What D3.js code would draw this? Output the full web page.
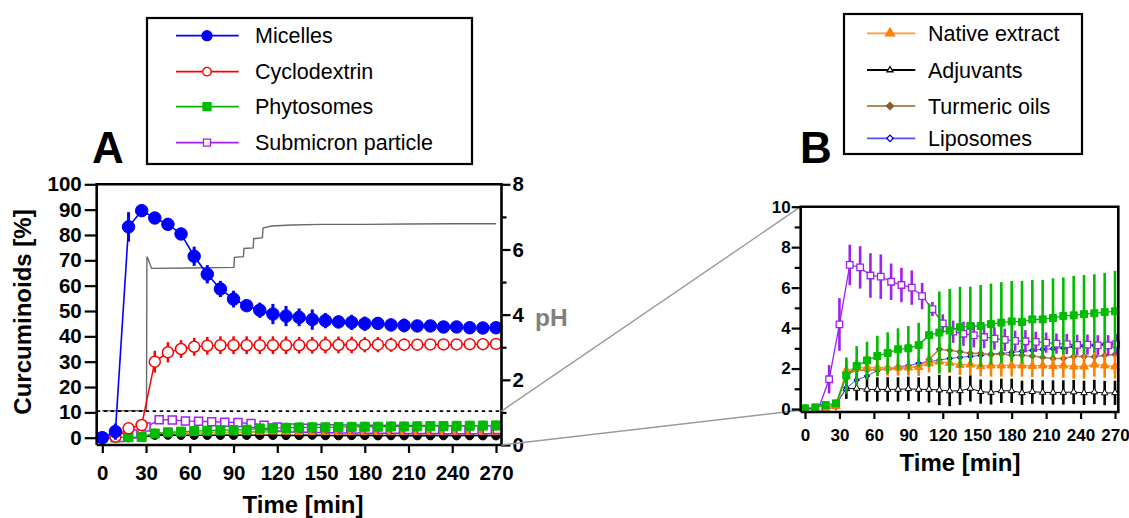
<!DOCTYPE html>
<html><head><meta charset="utf-8">
<script src="https://cdn.jsdelivr.net/npm/d3@7/dist/d3.min.js"></script>
<style>
body{margin:0;background:#fff}
svg{display:block;font-family:"Liberation Sans",Arial,Helvetica,sans-serif}
</style>
</head><body>
<svg id="c" width="1129" height="518"></svg>
<script>
// ---------------- DATA ----------------
const times = [0,9,18,27,36,45,54,63,72,81,90,99,108,117,126,135,144,153,162,171,180,189,198,207,216,225,234,243,252,261,270];
const submicronTimes = [0,12,21,30,39,48,57,66,75,84,93,102,111,120,129,138,147,156,165,174,183,192,201,210,219,228,237,246,255,264,271];
const xTicks = [0,30,60,90,120,150,180,210,240,270];
const yTicksA = [0,10,20,30,40,50,60,70,80,90,100];
const phTicks = [0,1,2,3,4,5,6,7,8];
const yTicksB = [0,1,2,3,4,5,6,7,8,9,10];

const micelles    = [0,2.4,83.2,89.6,86.7,84.2,80.4,71.6,64.5,58.7,54.7,52.1,50.3,48.8,48.0,47.5,46.6,46.2,45.7,45.5,45.0,45.1,44.5,44.3,44.1,44.1,43.7,43.7,43.4,43.3,43.4];
const micellesErr = [0.5,3.2,5.8,0.8,1.5,1.0,2.1,3.8,3.6,3.2,3.3,2.0,3.0,4.0,4.0,3.5,4.0,3.0,2.5,3.0,2.8,2.5,2.5,2.7,2.3,2.3,2.3,2.0,2.3,2.0,1.8];
const cyclodextrin    = [0,0.4,3.7,5.0,30.0,33.7,35.0,35.9,36.3,36.5,36.5,36.5,36.5,36.5,36.5,36.5,36.5,36.6,36.6,36.6,36.7,36.7,36.7,36.7,36.7,36.8,36.8,36.8,36.9,36.9,37.0];
const cyclodextrinErr = [0,0.3,0.8,1.0,4.3,4.0,3.5,3.5,3.5,3.5,3.5,3.5,3.5,3.5,3.5,3.3,3.3,3.3,3.3,3.3,3.0,3.0,2.8,2.5,2.3,2.0,1.8,1.5,1.0,0.8,0.6];
const phytosomes    = [0.03,0.08,0.2,0.28,1.65,2.13,2.4,2.62,2.77,2.95,3.0,3.16,3.65,3.78,3.88,4.04,4.1,4.1,4.2,4.27,4.33,4.3,4.43,4.43,4.5,4.6,4.63,4.69,4.73,4.79,4.83];
const phytosomesErr = [0.05,0.05,0.1,0.15,0.9,0.98,0.93,1.0,1.02,1.04,1.1,1.1,1.57,2.03,2.05,2.0,1.95,2.03,2.0,2.0,2.0,2.03,1.95,1.95,1.96,1.9,1.95,1.93,1.93,1.94,2.0];
const submicron    = [0,0.05,1.47,4.18,7.12,7.0,6.6,6.54,6.29,6.13,6.0,5.58,4.94,4.23,3.82,3.72,3.64,3.56,3.48,3.42,3.37,3.35,3.32,3.28,3.23,3.21,3.17,3.18,3.15,3.15,3.2];
const submicronErr = [0.05,0.05,0.7,1.3,1.0,1.05,1.1,1.1,0.9,0.85,0.85,0.65,0.35,0.45,0.55,0.6,0.6,0.55,0.55,0.55,0.5,0.55,0.5,0.5,0.5,0.5,0.5,0.5,0.5,0.5,0.5];
const nativeExtract    = [0,0,0.05,0.15,1.9,2.03,2.05,2.05,2.05,2.05,2.05,2.08,2.26,2.34,2.28,2.18,2.2,2.12,2.15,2.15,2.15,2.15,2.13,2.15,2.12,2.15,2.1,2.1,2.2,2.15,2.1];
const nativeExtractErr = [0.05,0.05,0.05,0.1,0.55,0.4,0.4,0.4,0.4,0.4,0.4,0.45,0.45,0.5,0.5,0.5,0.55,0.5,0.55,0.55,0.55,0.55,0.55,0.55,0.55,0.6,0.6,0.6,0.6,0.6,0.6];
const adjuvants    = [0,0,0.03,0.25,1.0,1.02,0.97,0.97,0.97,0.97,1.0,0.97,0.97,0.94,0.89,0.9,1.02,0.86,0.82,0.9,0.9,0.8,0.86,0.82,0.82,0.82,0.84,0.8,0.84,0.79,0.8];
const adjuvantsErr = [0.02,0.02,0.05,0.1,0.5,0.6,0.6,0.6,0.6,0.6,0.6,0.6,0.65,0.75,0.75,0.7,0.65,0.6,0.6,0.6,0.6,0.6,0.6,0.6,0.6,0.6,0.6,0.6,0.6,0.6,0.6];
const turmericOils    = [0,0,0,0.1,1.7,1.92,1.92,1.95,1.97,2.0,2.05,2.1,2.45,2.95,2.9,2.83,2.75,2.75,2.68,2.72,2.66,2.66,2.62,2.55,2.5,2.5,2.6,2.6,2.58,2.65,2.7];
const turmericOilsErr = [0.02,0.02,0.02,0.05,0.3,0.3,0.3,0.3,0.3,0.3,0.3,0.3,0.3,0.3,0.3,0.3,0.3,0.3,0.3,0.3,0.3,0.3,0.3,0.3,0.3,0.3,0.3,0.3,0.3,0.3,0.3];
const liposomes    = [0,0,0.03,0.2,1.05,1.43,1.63,1.9,2.0,2.1,2.14,2.26,2.34,2.42,2.5,2.55,2.6,2.65,2.72,2.75,2.8,2.85,2.9,2.95,2.98,3.02,3.08,3.12,3.15,3.2,3.23];
const liposomesErr = [0.02,0.02,0.02,0.05,0.2,0.2,0.2,0.2,0.2,0.2,0.2,0.2,0.2,0.2,0.2,0.2,0.2,0.2,0.2,0.2,0.2,0.2,0.2,0.2,0.2,0.2,0.2,0.2,0.2,0.2,0.2];

const phTime  = [0,30.3,30.6,31.5,33.8,60,90.3,90.6,96.8,97.1,103.5,103.8,109.8,110.2,116,130,150,180,210,240,270];
const phValue = [1.05,1.05,5.78,5.7,5.42,5.43,5.45,5.76,5.78,6.03,6.05,6.33,6.36,6.66,6.72,6.75,6.77,6.77,6.78,6.79,6.79];
const dashedLevel = 10.5;

// ---------------- SERIES STYLE TABLE ----------------
const S = {
  micelles:   {name:'Micelles', t:times, v:micelles, e:micellesErr, line:'#0000ff', mark:'#0000ff', sym:'circle', fill:true},
  cyclo:      {name:'Cyclodextrin', t:times, v:cyclodextrin, e:cyclodextrinErr, line:'#ff0000', mark:'#ff0000', sym:'circle', fill:false},
  phyto:      {name:'Phytosomes', t:times, v:phytosomes, e:phytosomesErr, line:'#00b400', mark:'#00bb00', sym:'square', fill:true},
  submicron:  {name:'Submicron particle', t:submicronTimes, v:submicron, e:submicronErr, line:'#a020f0', mark:'#a020f0', sym:'square', fill:false},
  native:     {name:'Native extract', t:times, v:nativeExtract, e:nativeExtractErr, line:'#ff9933', mark:'#ff7f00', sym:'triangle', fill:true},
  adjuvants:  {name:'Adjuvants', t:times, v:adjuvants, e:adjuvantsErr, line:'#000000', mark:'#000000', sym:'triangle', fill:false},
  turmeric:   {name:'Turmeric oils', t:times, v:turmericOils, e:turmericOilsErr, line:'#b08a5a', mark:'#8b5a2b', sym:'diamond', fill:true},
  liposomes:  {name:'Liposomes', t:times, v:liposomes, e:liposomesErr, line:'#5050ff', mark:'#0000c0', sym:'diamond', fill:false}
};

const svg = d3.select('#c');
const FONT = '"Liberation Sans",Arial,Helvetica,sans-serif';

function symPath(sym, s){
  if(sym==='circle') return d3.symbol(d3.symbolCircle, Math.PI*(s/2)*(s/2))();
  if(sym==='square') return d3.symbol(d3.symbolSquare, s*s)();
  if(sym==='triangle') return d3.symbol(d3.symbolTriangle, s*s*Math.sqrt(3)/4)();
  if(sym==='diamond') return d3.symbol(d3.symbolSquare, s*s/2)();
}
function drawMarker(g, x, y, ser, s, sw, override){
  const sym = override ? override.sym : ser.sym;
  const fill = override ? override.fill : ser.fill;
  g.append('path').attr('d', symPath(sym, s))
    .attr('transform', `translate(${x},${y})` + (sym==='diamond' ? ' rotate(45)' : ''))
    .attr('fill', fill ? ser.mark : '#fff')
    .attr('stroke', ser.mark).attr('stroke-width', sw);
}
function drawSeries(g, ser, x, y, opt){
  const pts = ser.t.map((t,i)=>({t, v:ser.v[i], e:ser.e[i]}));
  const sg = g.append('g');
  sg.append('path').datum(pts)
    .attr('d', d3.line().x(d=>x(d.t)).y(d=>y(d.v)))
    .attr('fill','none').attr('stroke', ser.line).attr('stroke-width', opt.lw);
  sg.selectAll('line.eb').data(pts).join('line')
    .attr('x1', d=>x(d.t)).attr('x2', d=>x(d.t))
    .attr('y1', d=>y(d.v-d.e)).attr('y2', d=>y(d.v+d.e))
    .attr('stroke', ser.mark).attr('stroke-width', opt.ew);
  pts.forEach(d=>drawMarker(sg, x(d.t), y(d.v), ser, opt.ms, opt.msw, opt.override));
}

// ---------------- PANEL A ----------------
const A = {l:96.7, r:501.5, t:184.3, b:445};
const xA = d3.scaleLinear().domain([0,270]).range([102.3,496]);
const yA = d3.scaleLinear().domain([0,100]).range([437.7,184.3]);
const yPH = d3.scaleLinear().domain([0,8]).range([445,184.3]);

const gA = svg.append('g');
gA.append('path').datum(phTime.map((t,i)=>({t, p:phValue[i]})))
  .attr('d', d3.line().x(d=>xA(d.t)).y(d=>yPH(d.p)))
  .attr('fill','none').attr('stroke','#6a6a6a').attr('stroke-width',1.4);
gA.append('line').attr('x1',A.l).attr('x2',A.r).attr('y1',yA(dashedLevel)).attr('y2',yA(dashedLevel))
  .attr('stroke','#000').attr('stroke-width',1.6).attr('stroke-dasharray','3.5,3.5');

drawSeries(gA, S.liposomes, xA, yA, {lw:1, ew:1.5, ms:6, msw:1.2});
drawSeries(gA, S.turmeric, xA, yA, {lw:1.2, ew:1.5, ms:6, msw:1});
drawSeries(gA, S.adjuvants, xA, yA, {lw:1.6, ew:2, ms:8.5, msw:1, override:{sym:'circle', fill:true}});
drawSeries(gA, S.native, xA, yA, {lw:1.4, ew:2, ms:8, msw:1});
drawSeries(gA, S.submicron, xA, yA, {lw:1.3, ew:2, ms:8, msw:1.5});
drawSeries(gA, S.phyto, xA, yA, {lw:1.3, ew:2.5, ms:9, msw:1});
drawSeries(gA, S.cyclo, xA, yA, {lw:1.5, ew:2.5, ms:11, msw:1.5});
drawSeries(gA, S.micelles, xA, yA, {lw:1.6, ew:3, ms:12.5, msw:1});

gA.append('path').attr('d',`M${A.l},${A.b}V${A.t}H${A.r}V${A.b}H${A.l}`)
  .attr('fill','none').attr('stroke','#000').attr('stroke-width',2.6);

function styleAxis(g, fs){
  g.select('.domain').remove();
  g.selectAll('.tick line').attr('stroke','#000').attr('stroke-width',2.2);
  g.selectAll('.tick text').attr('font-family',FONT).attr('font-weight','bold').attr('font-size',fs).attr('fill','#000');
}
gA.append('g').attr('transform',`translate(${A.l},0)`)
  .call(d3.axisLeft(yA).tickValues(yTicksA).tickSize(12).tickPadding(3))
  .call(g=>styleAxis(g,20.5));
gA.append('g').attr('transform',`translate(${A.r},0)`)
  .call(d3.axisRight(yPH).tickValues(phTicks.filter(d=>d%2===0)).tickSize(9).tickPadding(2))
  .call(g=>styleAxis(g,20.5));
gA.append('g').attr('transform',`translate(${A.r},0)`)
  .call(d3.axisRight(yPH).tickValues(phTicks.filter(d=>d%2===1)).tickSize(5).tickFormat(''))
  .call(g=>styleAxis(g,20.5));
gA.append('g').attr('transform',`translate(0,${A.b})`)
  .call(d3.axisBottom(xA).tickValues(xTicks).tickSize(8).tickPadding(12))
  .call(g=>styleAxis(g,20.5));

svg.append('text').attr('x',303).attr('y',513).attr('text-anchor','middle')
  .attr('font-family',FONT).attr('font-weight','bold').attr('font-size',24).text('Time [min]');
svg.append('text').attr('transform','translate(31,312) rotate(-90)').attr('text-anchor','middle')
  .attr('font-family',FONT).attr('font-weight','bold').attr('font-size',24).text('Curcuminoids [%]');
svg.append('text').attr('x',535).attr('y',326).attr('font-family',FONT).attr('font-weight','bold')
  .attr('font-size',24.5).attr('fill','#808080').text('pH');
svg.append('text').attr('x',108).attr('y',163).attr('text-anchor','middle')
  .attr('font-family',FONT).attr('font-weight','bold').attr('font-size',44).text('A');

// ---------------- PANEL B ----------------
const B = {l:800.7, r:1118.3, t:206.7, b:412};
const xB = d3.scaleLinear().domain([0,270]).range([805,1115]);
const yB = d3.scaleLinear().domain([0,10]).range([409,206.7]);

svg.append('line').attr('x1',A.r).attr('y1',yA(dashedLevel)).attr('x2',B.l).attr('y2',yB(10))
  .attr('stroke','#9a9a9a').attr('stroke-width',1.4);
svg.append('line').attr('x1',A.r).attr('y1',A.b).attr('x2',B.l+2).attr('y2',yB(0)+1)
  .attr('stroke','#9a9a9a').attr('stroke-width',1.4);

const gB = svg.append('g');
drawSeries(gB, S.adjuvants, xB, yB, {lw:1, ew:2.6, ms:6.5, msw:1});
drawSeries(gB, S.liposomes, xB, yB, {lw:1, ew:1.5, ms:5, msw:1.2});
drawSeries(gB, S.turmeric, xB, yB, {lw:1.6, ew:2.2, ms:6, msw:1});
drawSeries(gB, S.native, xB, yB, {lw:1.5, ew:2.6, ms:8.5, msw:1});
drawSeries(gB, S.submicron, xB, yB, {lw:1.3, ew:2.6, ms:6.5, msw:1.3});
drawSeries(gB, S.phyto, xB, yB, {lw:1.3, ew:2.6, ms:7, msw:1});

gB.append('path').attr('d',`M${B.l},${B.b}V${B.t}H${B.r}V${B.b}H${B.l}`)
  .attr('fill','none').attr('stroke','#000').attr('stroke-width',2.6);
gB.append('g').attr('transform',`translate(${B.l},0)`)
  .call(d3.axisLeft(yB).tickValues(yTicksB.filter(d=>d%2===0)).tickSize(9).tickPadding(1))
  .call(g=>styleAxis(g,17));
gB.append('g').attr('transform',`translate(${B.l},0)`)
  .call(d3.axisLeft(yB).tickValues(yTicksB.filter(d=>d%2===1)).tickSize(6).tickFormat(''))
  .call(g=>styleAxis(g,17));
gB.append('g').attr('transform',`translate(0,${B.b})`)
  .call(d3.axisBottom(xB).tickValues(xTicks).tickSize(7).tickPadding(10))
  .call(g=>styleAxis(g,17));
svg.append('text').attr('x',960).attr('y',471).attr('text-anchor','middle')
  .attr('font-family',FONT).attr('font-weight','bold').attr('font-size',24).text('Time [min]');
svg.append('text').attr('x',816).attr('y',163).attr('text-anchor','middle')
  .attr('font-family',FONT).attr('font-weight','bold').attr('font-size',44).text('B');

// ---------------- LEGENDS ----------------
function legend(box, rows, lx1, lx2, mx, tx, items, sizes){
  const g = svg.append('g');
  g.append('rect').attr('x',box[0]).attr('y',box[1]).attr('width',box[2]).attr('height',box[3])
    .attr('fill','#fff').attr('stroke','#000').attr('stroke-width',2.2);
  items.forEach((ser,i)=>{
    const y = rows[i];
    g.append('line').attr('x1',lx1).attr('x2',lx2).attr('y1',y).attr('y2',y)
      .attr('stroke',ser.line).attr('stroke-width',1.8);
    drawMarker(g, mx, y, ser, sizes[i], 1.3);
    g.append('text').attr('x',tx).attr('y',y).attr('dy','0.36em')
      .attr('font-family',FONT).attr('font-size',21.5).attr('fill','#000').text(ser.name);
  });
}
legend([147,18,325,146],[35.7,71.7,106.7,142.7],176,238.7,207,255,
  [S.micelles,S.cyclo,S.phyto,S.submicron],[10,8.5,8,7]);
legend([844,14,238,140],[33.3,70,106,138.3],867,915.3,890,928,
  [S.native,S.adjuvants,S.turmeric,S.liposomes],[9,6,7,6.5]);
</script>
</body></html>
